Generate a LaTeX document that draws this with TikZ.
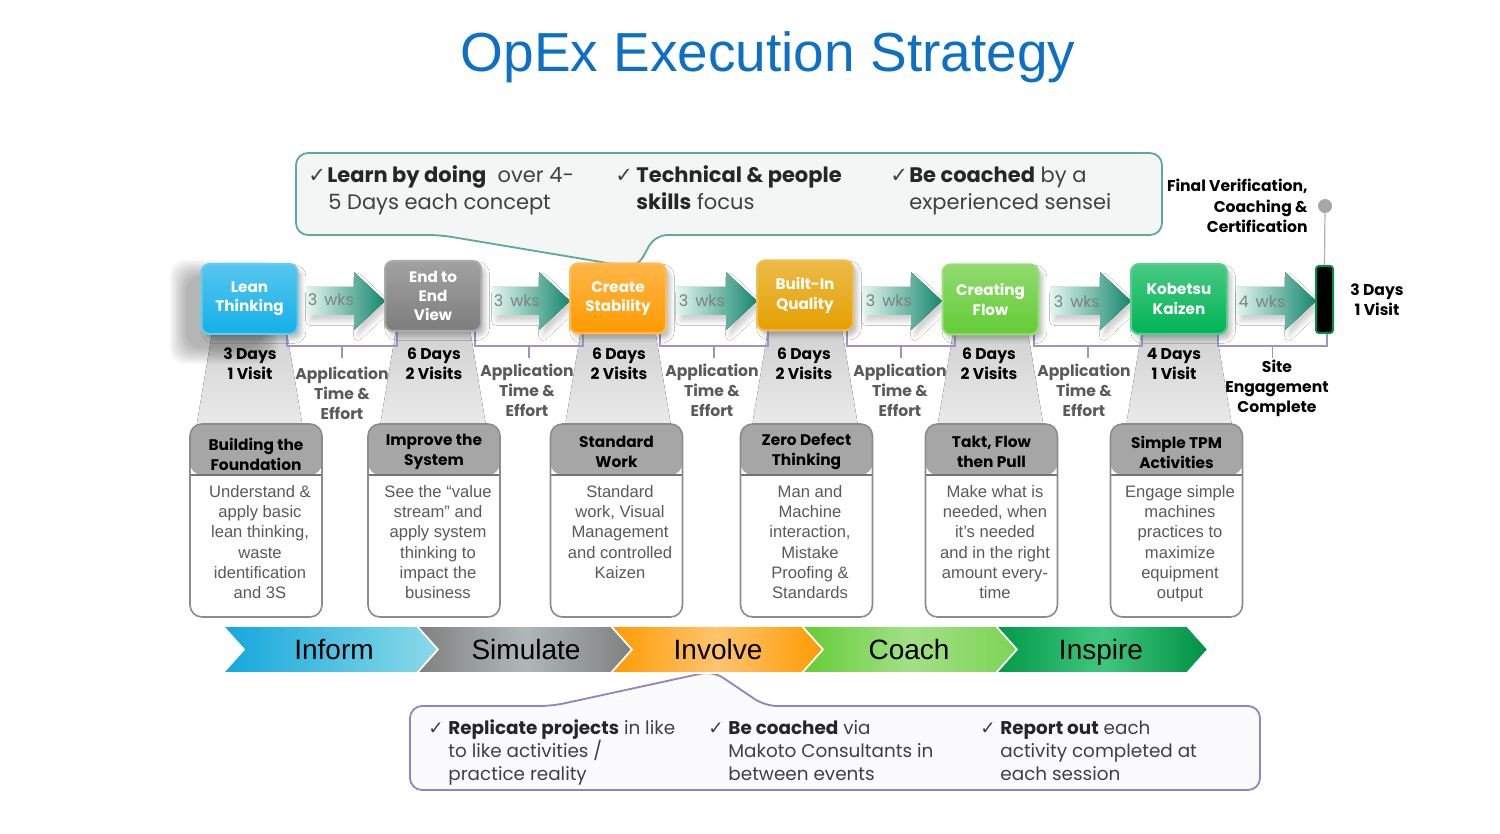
\documentclass[tikz,border=0pt]{standalone}
\usepackage{fontspec}
\setmainfont{Poppins}
\newfontfamily\arialf{Liberation Sans}
\newfontfamily\dvs{DejaVu Sans}
\usetikzlibrary{shadows.blur,calc}
\definecolor{titleblue}{RGB}{14,112,196}
\definecolor{calloutline}{RGB}{91,170,156}
\definecolor{calloutfill}{RGB}{244,245,245}
\definecolor{leanc}{RGB}{20,176,232}
\definecolor{e2ec}{RGB}{125,125,125}
\definecolor{createc}{RGB}{255,154,0}
\definecolor{builtc}{RGB}{228,160,0}
\definecolor{flowc}{RGB}{100,204,54}
\definecolor{kobc}{RGB}{0,180,84}
\definecolor{mint}{RGB}{228,247,240}
\definecolor{tealc}{RGB}{20,135,110}
\definecolor{brkc}{RGB}{155,147,204}
\definecolor{hdrgray}{RGB}{166,166,166}
\definecolor{cardline}{RGB}{140,140,140}
\definecolor{bodytxt}{RGB}{90,90,90}
\definecolor{txtdark}{RGB}{38,38,38}
\definecolor{txtmid}{RGB}{64,64,64}
\definecolor{botline}{RGB}{140,134,200}
\definecolor{botfill}{RGB}{251,251,254}
\newcommand{\ck}{{\dvs ✓}}
\tikzset{
  procbox/.style={rounded corners=4pt, minimum width=48pt, minimum height=35pt, inner sep=0pt,
    text=white, align=center, font=\bfseries\fontsize{7.6}{9.6}\selectfont, line width=1pt,
    top color=#1!72!white, bottom color=#1, draw=#1!65!white,
    blur shadow={shadow xshift=2pt, shadow yshift=-2.5pt, shadow opacity=25}},
  wkshape/.style={left color=mint, right color=tealc, draw=none,
    blur shadow={shadow xshift=2pt, shadow yshift=-3pt, shadow opacity=18}},
  wklabel/.style={text=gray, font=\fontsize{8}{10}\selectfont, inner sep=0pt},
  brk/.style={draw=brkc, line width=0.6pt},
  funnel/.style={top color=black!18, bottom color=black!8},
  softshadow/.style={fill=black, opacity=0.035, rounded corners=8pt},
  days/.style={font=\bfseries\fontsize{7.8}{10}\selectfont, text=black, align=center, inner sep=0pt},
  apptxt/.style={font=\bfseries\fontsize{7.8}{10}\selectfont, text=bodytxt, align=center, inner sep=0pt},
  card/.style={draw=cardline, line width=0.8pt, rounded corners=6pt, fill=white,
    minimum width=66pt, minimum height=96.5pt, inner sep=0pt,
    path picture={\fill[hdrgray] (path picture bounding box.north west) rectangle ([yshift=-25.5pt]path picture bounding box.north east);
      \draw[black!55, line width=0.8pt] ([yshift=-25.5pt]path picture bounding box.north west) -- ([yshift=-25.5pt]path picture bounding box.north east);}},
  cardhead/.style={font=\bfseries\fontsize{7.7}{10}\selectfont, text=black, align=center, inner sep=0pt},
  cardbody/.style={font=\arialf\fontsize{8.3}{10.1}\selectfont, text=bodytxt, align=center, inner sep=0pt, anchor=north},
  ctop/.style={font=\fontsize{10.5}{12}\selectfont, text=txtmid, inner sep=0pt, anchor=base west},
  cbot/.style={font=\fontsize{9.2}{11}\selectfont, text=txtmid, inner sep=0pt, anchor=base west},
  chevtxt/.style={font=\arialf\fontsize{14}{16}\selectfont, text=black, inner sep=0pt, anchor=base},
}
\newcommand{\chev}[3]{\fill[#3, draw=white, line width=0.8pt] (#1,626) -- (#2,626) -- (#2+21,649.5) -- (#2,673) -- (#1,673) -- (#1+21,649.5) -- cycle;}
\newcommand{\wkarrow}[2]{\fill[wkshape] (#1,287) -- (#2-31,287) -- (#2-31,272) -- (#2,301) -- (#2-31,330) -- (#2-31,315) -- (#1,315) -- cycle;}
\begin{document}
\begin{tikzpicture}[x=0.5pt,y=-0.5pt]
\useasboundingbox (0,0) rectangle (1500,834);
\fill[white] (0,0) rectangle (1500,834);

% Title
\node[font=\arialf\fontsize{27.5}{30}\selectfont, text=titleblue] (title) at (768,57) {OpEx Execution Strategy};

% Top callout
\draw[calloutline, fill=calloutfill, line width=0.9pt, rounded corners=6pt]
  (637,268) -- (655,235) -- (1162,235) -- (1162,153) -- (296,153) -- (296,235) -- (440,235) -- cycle;
\node[ctop] (t1c) at (308,183) {\ck};
\node[ctop] (t1a) at (327,183) {\textbf{\color{txtdark}Learn by doing}\ \ over 4-};
\node[ctop] (t1b) at (328,210) {5 Days each concept};
\node[ctop] (t2c) at (615,183) {\ck};
\node[ctop] (t2a) at (636,183) {\textbf{\color{txtdark}Technical \& people}};
\node[ctop] (t2b) at (636,210) {\textbf{\color{txtdark}skills} focus};
\node[ctop] (t3c) at (890,183) {\ck};
\node[ctop] (t3a) at (909,183) {\textbf{\color{txtdark}Be coached} by a};
\node[ctop] (t3b) at (909,210) {experienced sensei};

% Final verification
\node[font=\bfseries\fontsize{7.8}{10.3}\selectfont, align=right, anchor=east, inner sep=0pt] (finalv) at (1308,206)
  {Final Verification,\\Coaching \&\\Certification};
\node[circle, fill=black!35, minimum size=7pt, inner sep=0pt] (dot) at (1325,206) {};

% Funnels
\foreach \cx in {249.5,433,618,805,990.5,1179}{
  \fill[funnel] (\cx-37,330) -- (\cx+37,330) -- (\cx+53,426) -- (\cx-53,426) -- cycle;
}

% Brackets
\foreach \a/\b in {287/397,475/583,660/768,847/955,1034/1142,1218/1327}{
  \draw[brk] (\a,325) -- (\a,346) -- (\b,346) -- (\b,325);
  \draw[brk] ({(\a+\b)/2},346) -- ({(\a+\b)/2},358);
}

% soft shadow left of Lean Thinking
\foreach \i in {0,...,8}{
  \fill[softshadow] (186-2*\i,276-2*\i) rectangle (262+2*\i,348+2*\i);
}

% Arrows
\wkarrow{306}{385}
\wkarrow{492}{570}
\wkarrow{676}{757}
\wkarrow{862}{942}
\wkarrow{1050}{1131}
\wkarrow{1236}{1316}
\node[wklabel] (w1) at (331,300) {3\, wks};
\node[wklabel] (w2) at (517,301) {3\, wks};
\node[wklabel] (w3) at (702,301) {3\, wks};
\node[wklabel] (w4) at (889,301) {3\, wks};
\node[wklabel] (w5) at (1077,302) {3\, wks};
\node[wklabel] (w6) at (1262,302) {4\, wks};

% Process boxes
\node[procbox=leanc] (b1) at (249.5,299) {Lean\\Thinking};
\node[procbox=e2ec] (b2) at (433,296) {End to\\End\\View};
\node[procbox=createc] (b3) at (618,298.5) {Create\\Stability};
\node[procbox=builtc] (b4) at (805,295.5) {Built-In\\Quality};
\node[procbox=flowc] (b5) at (990.5,299.5) {Creating\\Flow};
\node[procbox=kobc] (b6) at (1179,299) {Kobetsu\\Kaizen};
\node[draw=kobc!80!black, fill=black, rounded corners=1.5pt, minimum width=8.5pt, minimum height=33.5pt, inner sep=0pt, line width=1pt] (b7) at (1324.5,299.5) {};
\draw[black!30, line width=0.6pt] (dot) -- (b7.north);
\node[days] (d7) at (1377,300) {3 Days\\1 Visit};

% Days
\node[days] (d1) at (250,364) {3 Days\\1 Visit};
\node[days] (d2) at (434,364) {6 Days\\2 Visits};
\node[days] (d3) at (619,364) {6 Days\\2 Visits};
\node[days] (d4) at (804,364) {6 Days\\2 Visits};
\node[days] (d5) at (989,364) {6 Days\\2 Visits};
\node[days] (d6) at (1174,364) {4 Days\\1 Visit};

% Application
\node[apptxt] (p1) at (342,393) {Application\\Time \&\\Effort};
\node[apptxt] (p2) at (527,390) {Application\\Time \&\\Effort};
\node[apptxt] (p3) at (712,390) {Application\\Time \&\\Effort};
\node[apptxt] (p4) at (900,390) {Application\\Time \&\\Effort};
\node[apptxt] (p5) at (1084,390) {Application\\Time \&\\Effort};
\node[days] (p6) at (1277,388) {Site\\Engagement\\Complete};

% Cards
\node[card] (c1) at (256,520.5) {};
\node[card] (c2) at (434,520.5) {};
\node[card] (c3) at (616.5,520.5) {};
\node[card] (c4) at (806.5,520.5) {};
\node[card] (c5) at (991.5,520.5) {};
\node[card] (c6) at (1176.5,520.5) {};
\node[cardhead] (h1) at (256,454) {Building the\\Foundation};
\node[cardhead] (h2) at (434,452) {Improve the\\System};
\node[cardhead] (h3) at (616.5,452) {Standard\\Work};
\node[cardhead] (h4) at (806.5,452) {Zero Defect\\Thinking};
\node[cardhead] (h5) at (991.5,452) {Takt, Flow\\then Pull};
\node[cardhead] (h6) at (1176.5,452) {Simple TPM\\Activities};
\node[cardbody] (x1) at (260,485) {Understand \&\\apply basic\\lean thinking,\\waste\\identification\\and 3S};
\node[cardbody] (x2) at (438,485) {See the “value\\stream” and\\apply system\\thinking to\\impact the\\business};
\node[cardbody] (x3) at (620,485) {Standard\\work, Visual\\Management\\and controlled\\Kaizen};
\node[cardbody] (x4) at (810,485) {Man and\\Machine\\interaction,\\Mistake\\Proofing \&\\Standards};
\node[cardbody] (x5) at (995,485) {Make what is\\needed, when\\it’s needed\\and in the right\\amount every-\\time};
\node[cardbody] (x6) at (1180,485) {Engage simple\\machines\\practices to\\maximize\\equipment\\output};

% Bottom callout
\draw[botline, fill=botfill, line width=0.9pt, rounded corners=6pt]
  (713,671) -- (765,706) -- (1260,706) -- (1260,790) -- (410,790) -- (410,706) -- (552,706) -- cycle;
\node[cbot] (u1c) at (428,734) {\ck};
\node[cbot] (u1a) at (448,734) {\textbf{\color{txtdark}Replicate projects} in like};
\node[cbot] (u1b) at (448,757) {to like activities /};
\node[cbot] (u1d) at (448,780) {practice reality};
\node[cbot] (u2c) at (708,734) {\ck};
\node[cbot] (u2a) at (728,734) {\textbf{\color{txtdark}Be coached} via};
\node[cbot] (u2b) at (728,757) {Makoto Consultants in};
\node[cbot] (u2d) at (728,780) {between events};
\node[cbot] (u3c) at (980,734) {\ck};
\node[cbot] (u3a) at (1000,734) {\textbf{\color{txtdark}Report out} each};
\node[cbot] (u3b) at (1000,757) {activity completed at};
\node[cbot] (u3d) at (1000,780) {each session};

% Chevrons
\chev{223}{417}{left color=leanc!95!black, right color={rgb,255:red,140;green,218;blue,232}}
\chev{417}{611}{left color=black!50, right color=black!50, middle color={rgb,255:red,175;green,184;blue,184}}
\chev{611}{802}{left color=createc, right color=createc, middle color={rgb,255:red,255;green,196;blue,110}}
\chev{802}{996}{left color=flowc, right color=flowc!85!white, middle color=flowc!60!white}
\chev{996}{1187}{left color=kobc!85!black, right color=kobc!80!black, middle color=kobc!75!white}
\node[chevtxt] (v1) at (334,659) {Inform};
\node[chevtxt] (v2) at (526,659) {Simulate};
\node[chevtxt] (v3) at (718,659) {Involve};
\node[chevtxt] (v4) at (909,659) {Coach};
\node[chevtxt] (v5) at (1101,659) {Inspire};
\end{tikzpicture}
\end{document}
